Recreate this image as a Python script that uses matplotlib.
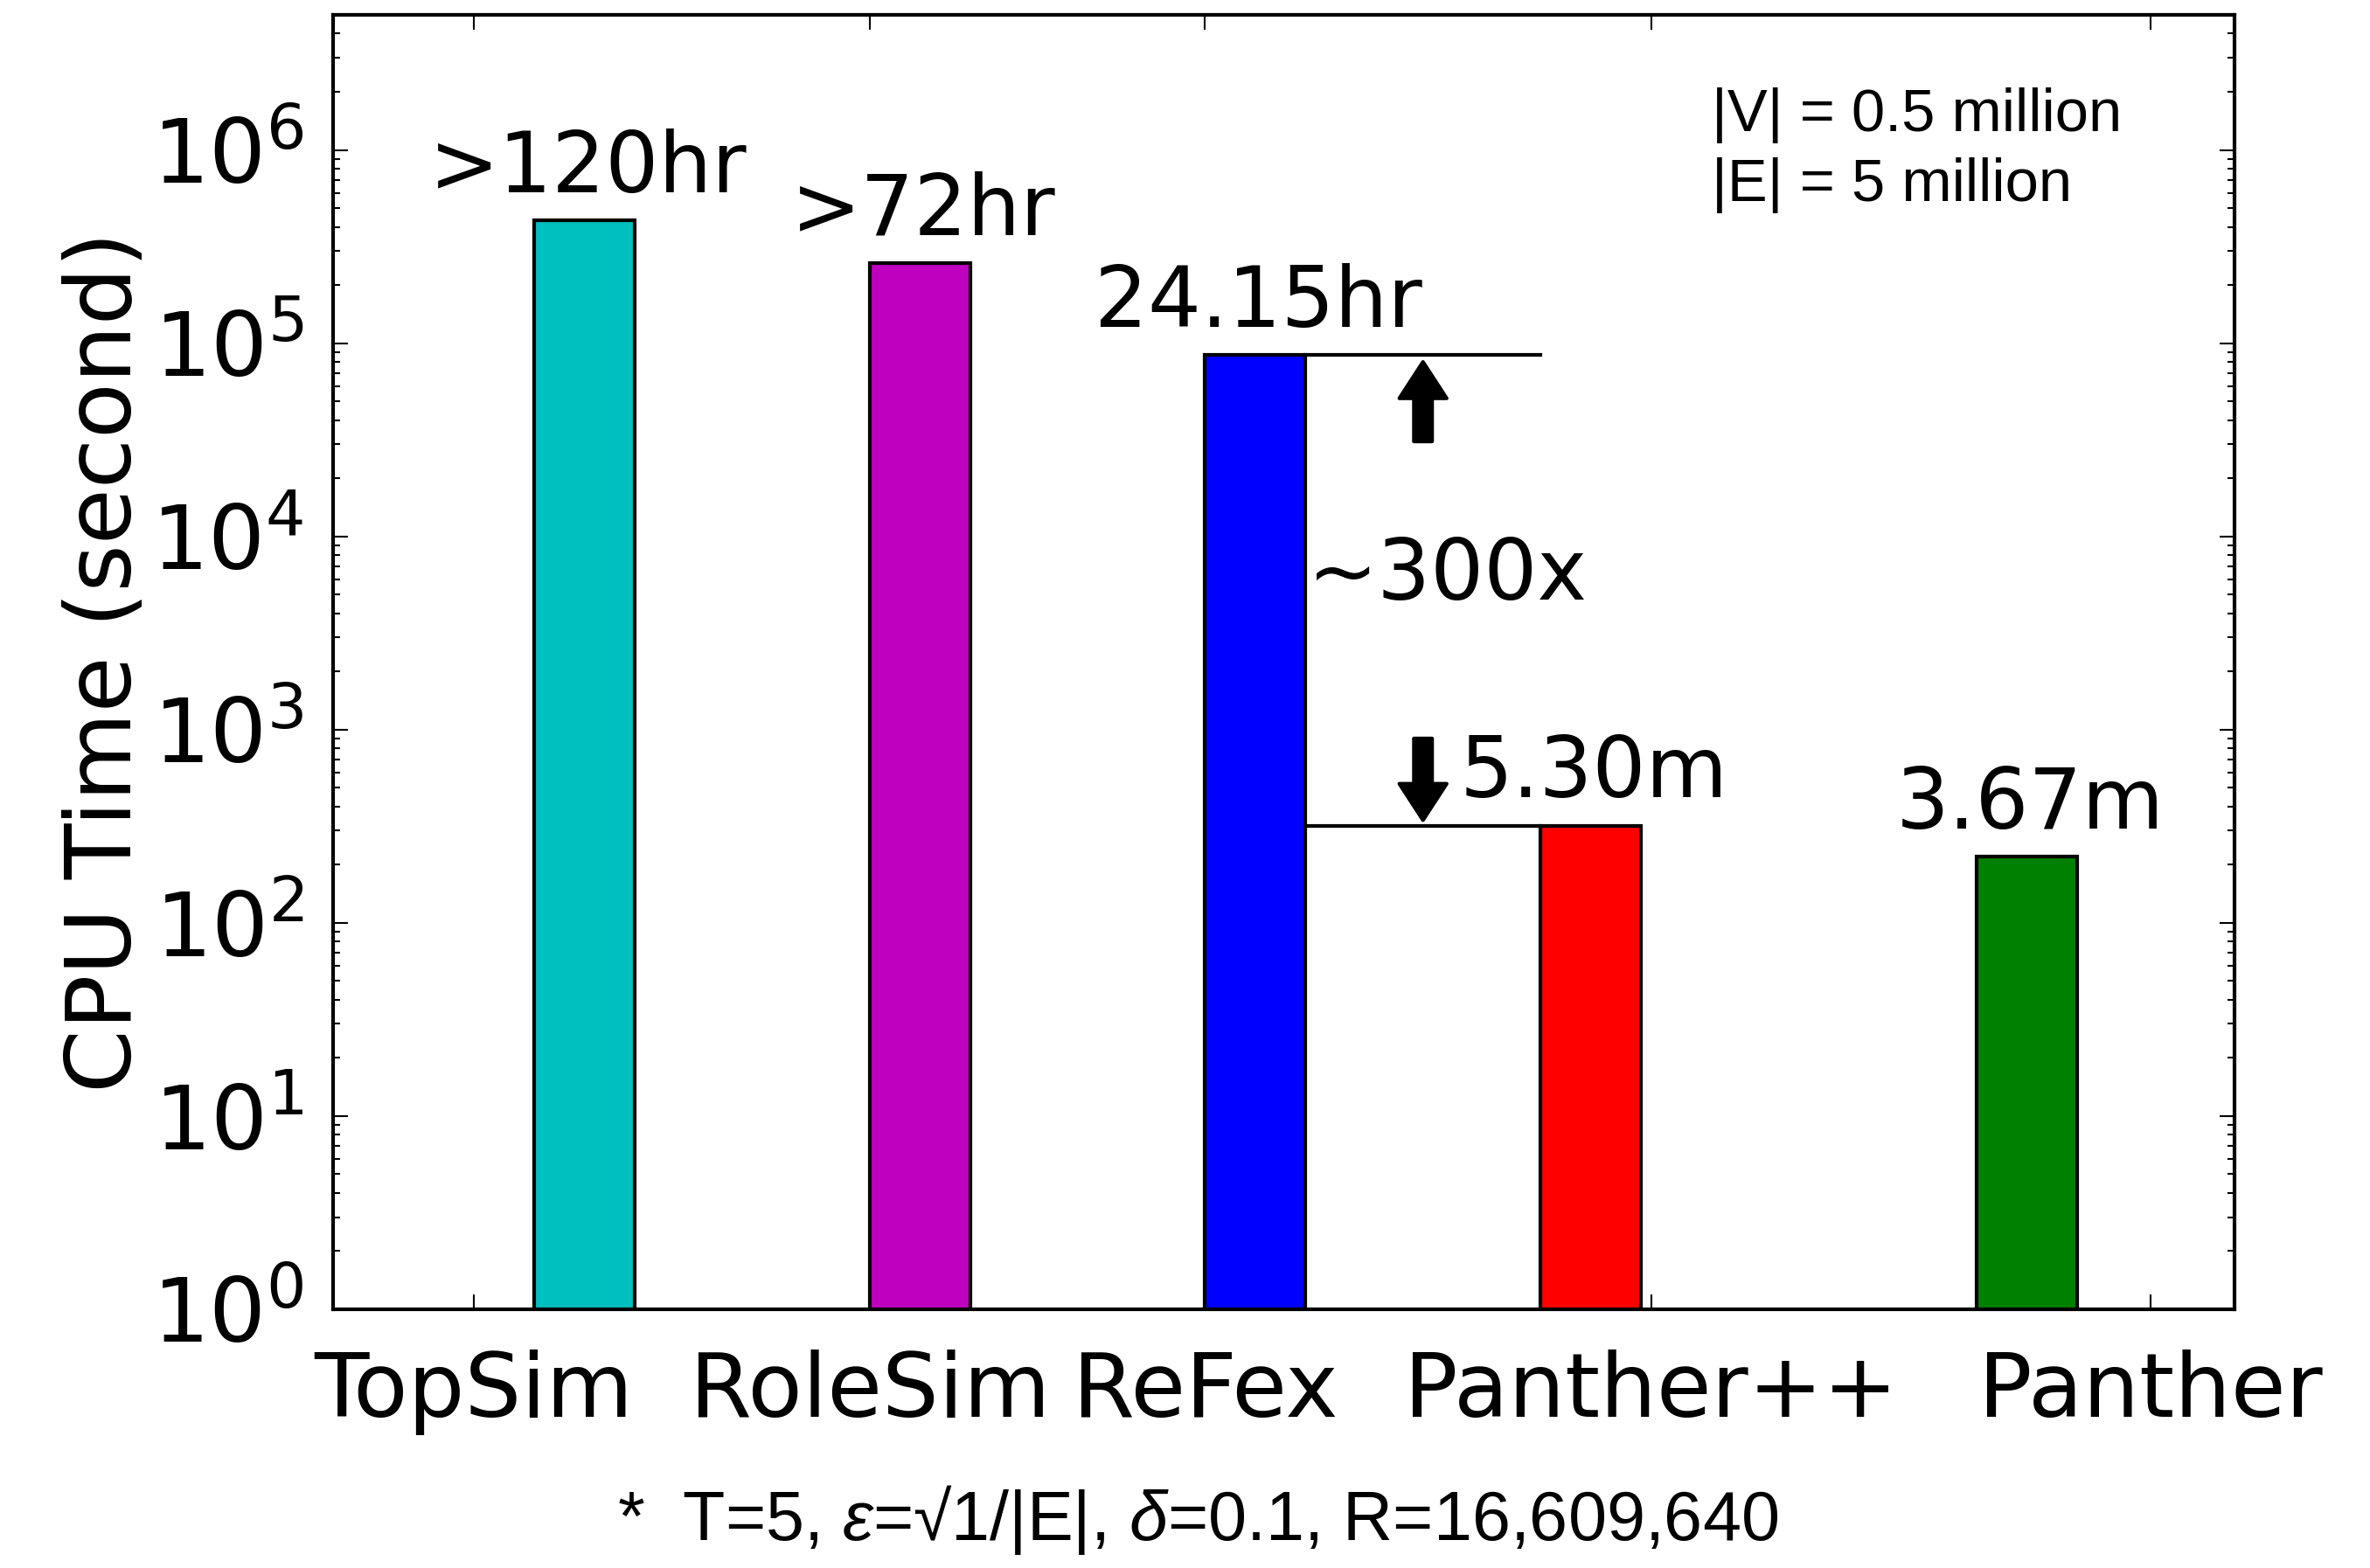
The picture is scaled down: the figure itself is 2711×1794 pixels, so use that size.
import matplotlib
matplotlib.use("Agg")
import matplotlib.pyplot as plt

# ---- data -------------------------------------------------------------
methods = ["TopSim", "RoleSim", "ReFex", "Panther++", "Panther"]
cpu_seconds = [432000, 259200, 86940, 318, 220.2]
time_labels = [">120hr", ">72hr", "24.15hr", "5.30m", "3.67m"]
bar_colors = ["c", "m", "b", "r", "g"]
bar_left = [0.0, 1.0, 2.0, 3.0, 4.3]
tick_pos = [-0.18, 1.0, 2.0, 3.33, 4.82]
bar_width = 0.3
speedup_text = "~300x"
graph_info = ["|V| = 0.5 million", "|E| = 5 million"]
footnote = r"*  T=5, $\varepsilon$=√1/|E|, $\delta$=0.1, R=16,609,640"

plt.rcParams["font.family"] = ["DejaVu Sans"]
plt.rcParams["mathtext.fontset"] = "custom"
plt.rcParams["mathtext.rm"] = "Liberation Sans"
plt.rcParams["mathtext.it"] = "Liberation Sans:italic"

fig = plt.figure(figsize=(9.04, 5.98), dpi=300, facecolor="white")
ax = fig.add_axes([0.1405, 0.165, 0.802, 0.8255])

ax.bar(bar_left, cpu_seconds, width=bar_width, align="edge",
       color=bar_colors, edgecolor="black", linewidth=1.0, zorder=2)

ax.set_yscale("log")
ax.set_ylim(1, 5e6)
ax.set_xlim(-0.6, 5.07)

# value labels above each bar
for x, h, lab in zip(bar_left, cpu_seconds, time_labels):
    ax.text(x + bar_width / 2 + 0.01, h * 1.4, lab, ha="center", va="baseline",
            fontsize=23)

# ReFex vs Panther++ gap marker
refex_top = cpu_seconds[2]
pplus_top = cpu_seconds[3]
x_gap_start = bar_left[2] + bar_width
x_gap_end = bar_left[3]
ax.plot([x_gap_start, x_gap_end], [refex_top, refex_top], color="black", lw=1.0, zorder=3)
ax.plot([x_gap_start, x_gap_end], [pplus_top, pplus_top], color="black", lw=1.0, zorder=3)

arrow_x = 2.65
arrow_kw = dict(facecolor="black", edgecolor="black", width=5, headwidth=13,
                headlength=10, shrink=0)
ax.annotate("", xy=(arrow_x, 8.0e4), xytext=(arrow_x, 3.1e4), arrowprops=arrow_kw)
ax.annotate("", xy=(arrow_x, 3.4e2), xytext=(arrow_x, 9.0e2), arrowprops=arrow_kw)
ax.text(x_gap_start + 0.005, 4700, speedup_text, ha="left", va="baseline", fontsize=23)

# axis styling
ax.set_xticks(tick_pos)
ax.set_xticklabels(methods)
ax.set_ylabel("CPU Time (second)", fontsize=25)
ax.yaxis.set_label_coords(-0.096, 0.5)
ax.tick_params(axis="both", which="both", direction="in", top=True, right=True)
ax.tick_params(axis="both", which="major", length=4, width=0.5)
ax.tick_params(axis="both", which="minor", length=2, width=0.5)
ax.tick_params(axis="x", labelsize=24.5, pad=11)
ax.tick_params(axis="y", labelsize=24.5, pad=8)
for sp in ax.spines.values():
    sp.set_linewidth(1.0)

# graph size note and parameter footnote
ax.text(0.725, 0.910, graph_info[0], transform=ax.transAxes, ha="left",
        va="baseline", fontsize=16.5, family="Liberation Sans")
ax.text(0.725, 0.856, graph_info[1], transform=ax.transAxes, ha="left",
        va="baseline", fontsize=16.5, family="Liberation Sans")
fig.text(0.505, 0.018, footnote, ha="center", va="baseline", fontsize=19,
         family="Liberation Sans")

fig.savefig("out.png", dpi=300, facecolor="white")
